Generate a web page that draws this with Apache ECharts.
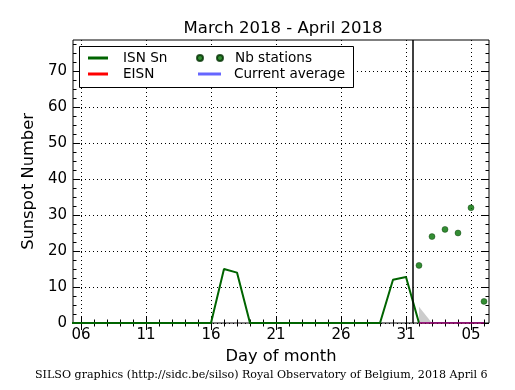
<!DOCTYPE html>
<html>
<head>
<meta charset="utf-8">
<script src="https://cdn.jsdelivr.net/npm/echarts@6/dist/echarts.min.js"></script>
<style>
  html, body { margin: 0; padding: 0; background: #fff; }
  #chart { width: 515px; height: 390px; }
</style>
</head>
<body>
<div id="chart"></div>
<script>
// ---- data (day numbers: March days 1..31, April days continue 32..37) ----
const isnDays   = [5, 6, 7, 8, 9, 10, 11, 12, 13, 14, 15, 16, 17, 18, 19, 20, 21, 22, 23, 24, 25, 26, 27, 28, 29, 30, 31, 32];
const isnValues = [0, 0, 0, 0, 0, 0, 0, 0, 0, 0, 0, 0, 15, 14, 0, 0, 0, 0, 0, 0, 0, 0, 0, 0, 0, 12, 12.8, 0];
const eisnDays   = [32, 33, 34, 35, 36, 37];
const eisnValues = [0, 0, 0, 0, 0, 0];
const avgDays   = [32, 33, 34, 35, 36, 37];
const avgValues = [0, 0, 0, 0, 0, 0];
const stationDays   = [32, 33, 34, 35, 36, 37];
const stationValues = [16, 24, 26, 25, 32, 6];
const bandDays  = [32, 33];
const bandUpper = [4.5, 0];
const nowMarker = 31.54;
const xMajorTicks = [6, 11, 16, 21, 26, 31, 36];
const xMinorTicks = [6,7,8,9,10,11,12,13,14,15,16,17,18,19,20,21,22,23,24,25,26,27,28,29,30,31,32,33,34,35,36,37];
const yMajorTicks = [0, 10, 20, 30, 40, 50, 60, 70];
const yMinorTicks = [2.5,5,7.5,12.5,15,17.5,22.5,25,27.5,32.5,35,37.5,42.5,45,47.5,52.5,55,57.5,62.5,65,67.5,72.5,75,77.5];
const titleText = 'March 2018 - April 2018';
const footerText = 'SILSO graphics (http://sidc.be/silso) Royal Observatory of Belgium, 2018 April 6';

const zip = (xs, ys) => xs.map((x, i) => [x, ys[i]]);
const FONT = 'DejaVu Sans';
const X_MIN = 5.385, X_MAX = 37.385, Y_MIN = 0, Y_MAX = 78.6;
const GREEN = '#006400';

function xAxisDef(pos, ticks, len, withLabels) {
  return {
    type: 'value', position: pos, min: X_MIN, max: X_MAX,
    axisLine: { show: false },
    axisTick: { show: true, inside: true, length: len, customValues: ticks, lineStyle: { color: '#000', width: 1 } },
    axisLabel: withLabels ? {
      show: true, customValues: ticks, color: '#000', fontFamily: FONT, fontSize: 15, margin: 5,
      formatter: v => { const d = v > 31 ? v - 31 : v; return (d < 10 ? '0' : '') + d; }
    } : { show: false },
    splitLine: withLabels ? { show: true, lineStyle: { color: '#000', width: 1, type: [1, 3] } } : { show: false },
    name: withLabels ? 'Day of month' : '',
    nameLocation: 'middle', nameGap: 26,
    nameTextStyle: { color: '#000', fontFamily: FONT, fontSize: 16.3 }
  };
}
function yAxisDef(pos, ticks, len, withLabels) {
  return {
    type: 'value', position: pos, min: Y_MIN, max: Y_MAX,
    axisLine: { show: false },
    axisTick: { show: true, inside: true, length: len, customValues: ticks, lineStyle: { color: '#000', width: 1 } },
    axisLabel: withLabels ? { show: true, customValues: ticks, color: '#000', fontFamily: FONT, fontSize: 15, margin: 6 } : { show: false },
    splitLine: withLabels ? { show: true, lineStyle: { color: '#000', width: 1, type: [1, 3] } } : { show: false },
    name: withLabels ? 'Sunspot Number' : '',
    nameLocation: 'middle', nameGap: 30,
    nameTextStyle: { color: '#000', fontFamily: FONT, fontSize: 16.3 }
  };
}

const chart = echarts.init(document.getElementById('chart'), null, { renderer: 'canvas' });
chart.setOption({
  animation: false,
  backgroundColor: '#fff',
  title: {
    text: titleText, left: 278, textAlign: 'center', top: 15,
    textStyle: { color: '#000', fontFamily: FONT, fontSize: 16.5, fontWeight: 'normal' }
  },
  grid: { left: 73, right: 26, top: 40, bottom: 67, show: true, borderColor: '#000', borderWidth: 1, backgroundColor: 'transparent' },
  xAxis: [
    xAxisDef('bottom', xMajorTicks, 7, true),
    xAxisDef('bottom', xMinorTicks, 3.5, false),
    xAxisDef('top', xMajorTicks, 7, false),
    xAxisDef('top', xMinorTicks, 3.5, false)
  ],
  yAxis: [
    yAxisDef('left', yMajorTicks, 7, true),
    yAxisDef('left', yMinorTicks, 3.5, false),
    yAxisDef('right', yMajorTicks, 7, false),
    yAxisDef('right', yMinorTicks, 3.5, false)
  ],
  legend: [
    {
      data: ['ISN Sn', 'EISN'], orient: 'vertical', left: 88, top: 50, padding: 0, itemGap: 0,
      icon: 'rect', itemWidth: 20, itemHeight: 3, z: 5,
      textStyle: { color: '#000', fontFamily: FONT, fontSize: 13.6, lineHeight: 16, padding: [0, 0, 0, 10] }
    },
    {
      data: ['Nb stations'], orient: 'vertical', left: 196, top: 50, padding: 0, itemGap: 0,
      icon: 'path://M0,3a3,3 0 1,0 6,0a3,3 0 1,0 -6,0z M20,3a3,3 0 1,0 6,0a3,3 0 1,0 -6,0z',
      itemWidth: 26, itemHeight: 6, z: 5,
      textStyle: { color: '#000', fontFamily: FONT, fontSize: 13.6, lineHeight: 16, padding: [0, 0, 0, 7] }
    },
    {
      data: ['Current average'], orient: 'vertical', left: 198, top: 66, padding: 0, itemGap: 0,
      icon: 'rect', itemWidth: 23, itemHeight: 3, z: 5,
      textStyle: { color: '#000', fontFamily: FONT, fontSize: 13.6, lineHeight: 16, padding: [0, 0, 0, 8] }
    }
  ],
  graphic: [
    { type: 'rect', shape: { x: 79.5, y: 46.5, width: 274, height: 41 }, style: { fill: '#fff', stroke: '#000', lineWidth: 1 }, z: 4 },
    { type: 'text', left: 35, top: 370, style: { text: footerText, fill: '#000', font: '11.1px "DejaVu Serif"' } }
  ],
  series: [
    {
      name: 'band', type: 'line', data: zip(bandDays, bandUpper), symbol: 'none',
      lineStyle: { width: 0, opacity: 0 }, areaStyle: { color: '#cccccc', opacity: 1, origin: 'start' },
      z: 1, silent: true
    },
    {
      name: 'ISN Sn', type: 'line', data: zip(isnDays, isnValues), symbol: 'none', color: GREEN,
      lineStyle: { color: GREEN, width: 2 }, clip: true, z: 2,
      markLine: {
        silent: true, symbol: 'none', label: { show: false },
        lineStyle: { color: '#000', width: 1.5, type: 'solid' },
        data: [{ xAxis: nowMarker }]
      }
    },
    {
      name: 'EISN', type: 'line', data: zip(eisnDays, eisnValues), symbol: 'none', color: '#ff0000',
      lineStyle: { color: '#ff0000', width: 1.5 }, z: 3
    },
    {
      name: 'Current average', type: 'line', data: zip(avgDays, avgValues), symbol: 'none', color: '#6666ff',
      lineStyle: { color: '#0000ff', width: 1.5, opacity: 0.5 }, z: 3
    },
    {
      name: 'Nb stations', type: 'scatter', data: zip(stationDays, stationValues), symbol: 'circle', symbolSize: 6,
      color: '#007000', itemStyle: { color: '#007000', borderColor: '#003000', borderWidth: 0.5 }, z: 3, clip: false
    }
  ]
});
</script>
</body>
</html>
